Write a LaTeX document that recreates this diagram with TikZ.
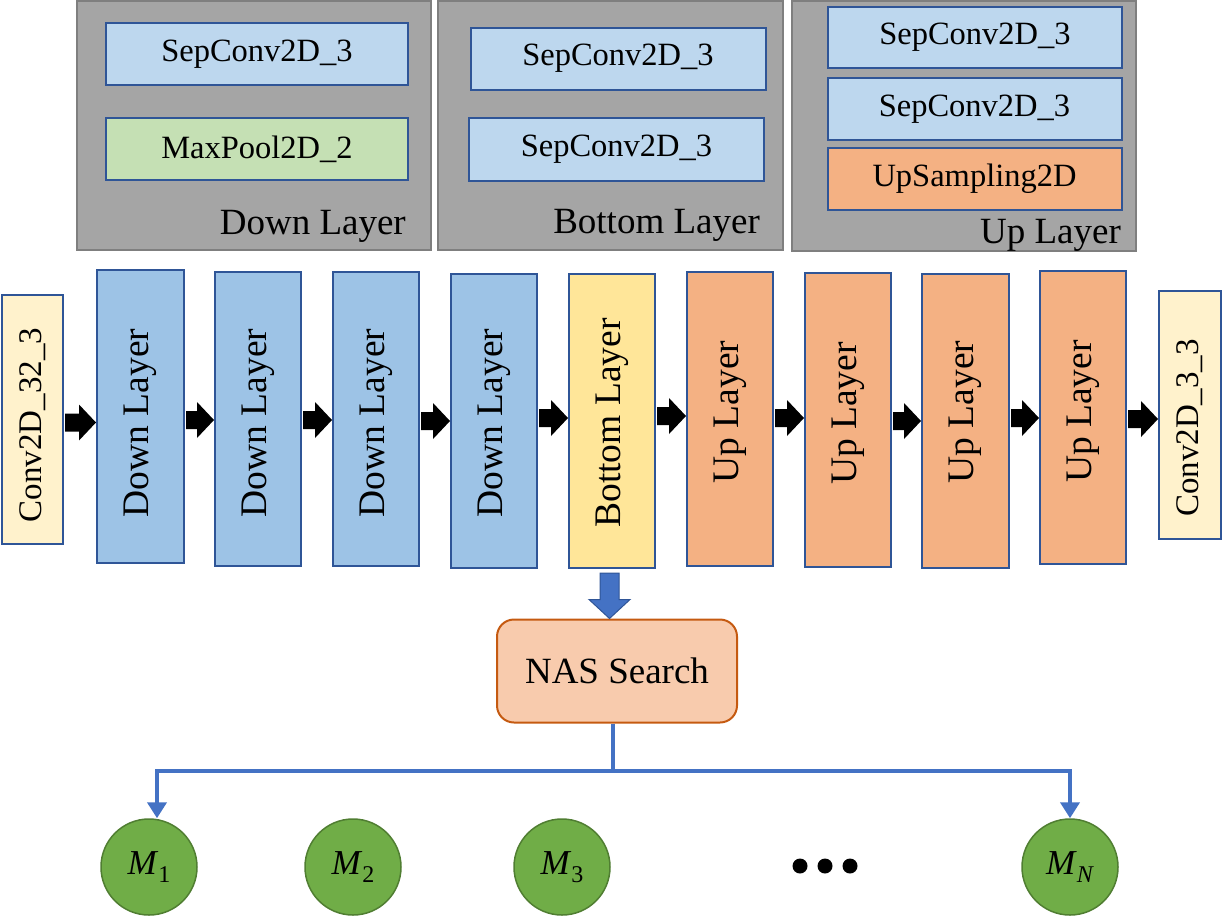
\documentclass[tikz,border=0pt]{standalone}
\usepackage{fontspec}
\setmainfont{Liberation Serif}
\usepackage{graphicx}
\usetikzlibrary{calc,arrows.meta}
\definecolor{panelfill}{HTML}{A5A5A5}
\definecolor{panelborder}{HTML}{7F7F7F}
\definecolor{lightblue}{HTML}{BDD7EE}
\definecolor{darkblue}{HTML}{2F5597}
\definecolor{lightgreen}{HTML}{C5E0B4}
\definecolor{orangebox}{HTML}{F4B183}
\definecolor{midblue}{HTML}{9DC3E6}
\definecolor{paleyellow}{HTML}{FFF2CC}
\definecolor{yellowbox}{HTML}{FFE699}
\definecolor{nasfill}{HTML}{F8CBAD}
\definecolor{nasborder}{HTML}{C55A11}
\definecolor{arrowblue}{HTML}{4472C4}
\definecolor{circfill}{HTML}{70AD47}
\definecolor{circborder}{HTML}{507E32}
\newcommand{\blkarrow}[3]{%
  \fill ($(#1.east|-#3)+(1,-9)$) -- ($(#2.west|-#3)+(-17,-9)$) -- ($(#2.west|-#3)+(-17,-18)$) -- (#2.west|-#3) -- ($(#2.west|-#3)+(-17,18)$) -- ($(#2.west|-#3)+(-17,9)$) -- ($(#1.east|-#3)+(1,9)$) -- cycle;}
% rotated text: #1 space before (moves text up by half), #2 space after (moves text down by half)
\newcommand{\vtext}[3]{\rotatebox{90}{\hspace*{#1}#3\hspace*{#2}}}
\newcommand{\mlab}[1]{\textit{M}\raisebox{-8pt}{\fontsize{24}{28}\selectfont #1}}
\tikzset{
  panel/.style={draw=panelborder, fill=panelfill, line width=2.5pt, inner sep=0pt},
  inbox/.style={draw=darkblue, line width=2pt, inner sep=0pt, font=\fontsize{32.5}{38}\selectfont},
  mainbox/.style={draw=darkblue, line width=2pt, inner sep=0pt, font=\fontsize{37.5}{44}\selectfont},
  convbox/.style={mainbox, fill=paleyellow, minimum width=61pt, font=\fontsize{33}{40}\selectfont},
  panellabel/.style={anchor=base east, inner sep=0pt, font=\fontsize{37}{44}\selectfont},
  modelnode/.style={circle, draw=circborder, fill=circfill, line width=1.5pt, minimum size=96pt, inner sep=0pt, font=\fontsize{35}{40}\selectfont},
  bluecon/.style={draw=arrowblue, line width=4.5pt},
}
\begin{document}
\begin{tikzpicture}[x=1pt,y=-1pt]
\useasboundingbox (0,0) rectangle (1230,916);
% panels
\node[panel, minimum width=354pt, minimum height=249pt] (p1) at (254,125.5) {};
\node[panel, minimum width=345pt, minimum height=249pt] (p2) at (610.5,125.5) {};
\node[panel, minimum width=344pt, minimum height=250pt] (p3) at (964,126) {};
\node[inbox, fill=lightblue, minimum width=302pt, minimum height=62pt] (p1a) at (257,54) {SepConv2D\_3};
\node[inbox, fill=lightgreen, minimum width=302pt, minimum height=62pt] (p1b) at (257,149) {MaxPool2D\_2};
\node[panellabel] (p1l) at (406,234) {Down Layer};
\node[inbox, fill=lightblue, minimum width=295pt, minimum height=62pt] (p2a) at (618,58.5) {SepConv2D\_3};
\node[inbox, fill=lightblue, minimum width=295pt, minimum height=63pt] (p2b) at (616.5,149.5) {SepConv2D\_3};
\node[panellabel] (p2l) at (760,233) {Bottom Layer};
\node[inbox, fill=lightblue, minimum width=294pt, minimum height=61pt] (p3a) at (975,37.5) {SepConv2D\_3};
\node[inbox, fill=lightblue, minimum width=294pt, minimum height=62pt] (p3b) at (974.5,109) {SepConv2D\_3};
\node[inbox, fill=orangebox, minimum width=294pt, minimum height=62pt] (p3c) at (974.5,179) {UpSampling2D};
\node[panellabel] (p3l) at (1121,243) {Up Layer};
% main row
\node[convbox, minimum height=249pt] (c0) at (32.5,419.5) {\vtext{0pt}{11pt}{Conv2D\_32\_3}};
\node[mainbox, fill=midblue, minimum width=87pt, minimum height=293pt] (d1) at (140.5,416.5) {\vtext{0pt}{13pt}{Down Layer}};
\node[mainbox, fill=midblue, minimum width=86pt, minimum height=294pt] (d2) at (258,419) {\vtext{0pt}{8pt}{Down Layer}};
\node[mainbox, fill=midblue, minimum width=86pt, minimum height=294pt] (d3) at (376,419) {\vtext{0pt}{8pt}{Down Layer}};
\node[mainbox, fill=midblue, minimum width=86pt, minimum height=294pt] (d4) at (494,421) {\vtext{0pt}{4pt}{Down Layer}};
\node[mainbox, fill=yellowbox, minimum width=86pt, minimum height=294pt] (b) at (612,421) {\vtext{0pt}{4pt}{Bottom Layer}};
\node[mainbox, fill=orangebox, minimum width=86pt, minimum height=294pt] (u1) at (730,419) {\vtext{14pt}{0pt}{Up Layer}};
\node[mainbox, fill=orangebox, minimum width=86pt, minimum height=294pt] (u2) at (848,420) {\vtext{13pt}{0pt}{Up Layer}};
\node[mainbox, fill=orangebox, minimum width=87pt, minimum height=294pt] (u3) at (965.5,421) {\vtext{18pt}{0pt}{Up Layer}};
\node[mainbox, fill=orangebox, minimum width=86pt, minimum height=293pt] (u4) at (1083,417.5) {\vtext{12pt}{0pt}{Up Layer}};
\node[convbox, minimum width=62pt, minimum height=248pt] (c1) at (1190,415) {\vtext{0pt}{26pt}{Conv2D\_3\_3}};
% arrow heights
\coordinate (y1) at (0,422.5);
\coordinate (y2) at (0,420);
\coordinate (y3) at (0,420);
\coordinate (y4) at (0,421);
\coordinate (y5) at (0,418);
\coordinate (y6) at (0,416);
\coordinate (y7) at (0,418);
\coordinate (y8) at (0,421);
\coordinate (y9) at (0,418);
\coordinate (y10) at (0,419);
\blkarrow{c0}{d1}{y1}
\blkarrow{d1}{d2}{y2}
\blkarrow{d2}{d3}{y3}
\blkarrow{d3}{d4}{y4}
\blkarrow{d4}{b}{y5}
\blkarrow{b}{u1}{y6}
\blkarrow{u1}{u2}{y7}
\blkarrow{u2}{u3}{y8}
\blkarrow{u3}{u4}{y9}
\blkarrow{u4}{c1}{y10}
% NAS search
\node[draw=nasborder, fill=nasfill, line width=2pt, rounded corners=17pt, minimum width=240pt, minimum height=103pt, inner sep=0pt, font=\fontsize{37}{44}\selectfont] (nas) at (617,671) {NAS Search};
\coordinate (bt) at ($(b.south)+(-2.5,4)$);
\filldraw[fill=arrowblue, draw=darkblue, line width=1pt]
  ($(bt)+(-9.5,0)$) -- ($(bt|-nas.north)+(-9.5,-19)$) -- ($(bt|-nas.north)+(-20.5,-19)$) -- (bt|-nas.north)
  -- ($(bt|-nas.north)+(20.5,-19)$) -- ($(bt|-nas.north)+(9.5,-19)$) -- ($(bt)+(9.5,0)$) -- cycle;
% models
\node[modelnode] (m1) at (149,867) {\mlab{1}};
\node[modelnode] (m2) at (353,867) {\mlab{2}};
\node[modelnode] (m3) at (562,867) {\mlab{3}};
\node[modelnode] (mN) at (1070,867) {\mlab{\textit{N}}};
\fill (800,866) circle (7.5) (825,866) circle (7.5) (850,866) circle (7.5);
\coordinate (hl) at (613,771);
\draw[bluecon] (nas.south-|hl) -- (hl);
\draw[bluecon, -{Triangle[length=16pt,width=19pt]}] ($(hl)+(2.25,0)$) -| ($(m1.north)+(8,0)$);
\draw[bluecon, -{Triangle[length=16pt,width=19pt]}] ($(hl)+(-2.25,0)$) -| (mN.north);
\end{tikzpicture}
\end{document}
